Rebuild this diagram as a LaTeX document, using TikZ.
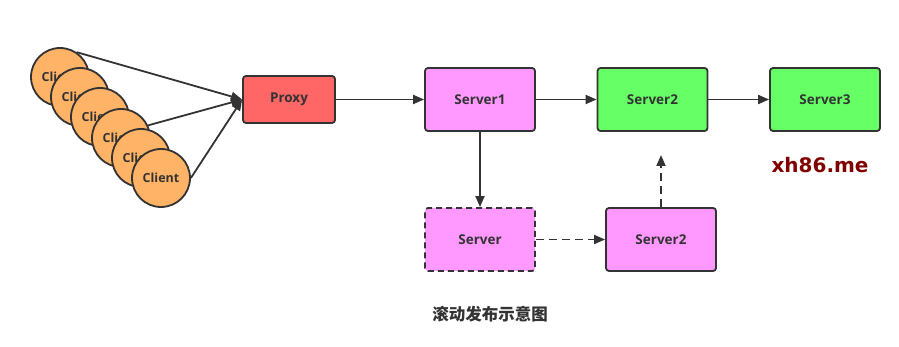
\documentclass[tikz,border=0pt]{standalone}
\usepackage{fontspec}
\setmainfont{Open Sans}
\newfontfamily\cjk{Noto Sans CJK SC}
\newfontfamily\logofont{DejaVu Sans}
\usetikzlibrary{arrows.meta}
\definecolor{strokec}{HTML}{333333}
\definecolor{clientc}{HTML}{FFB366}
\definecolor{proxyc}{HTML}{FF6666}
\definecolor{serverc}{HTML}{FF99FF}
\definecolor{greenc}{HTML}{66FF66}
\definecolor{logoc}{HTML}{800000}
\tikzset{
  client/.style={circle,draw=strokec,line width=1.8pt,fill=clientc,minimum size=58pt,inner sep=0pt,font=\bfseries\fontsize{12.5}{14}\selectfont,text=strokec},
  box/.style={rectangle,rounded corners=3pt,draw=strokec,line width=1.8pt,minimum width=110pt,minimum height=63pt,font=\bfseries\fontsize{13.5}{15}\selectfont,text=strokec},
  conn/.style={draw=strokec,line width=1.8pt,-{Triangle[length=11pt,width=9pt]}},
}
\begin{document}
\begin{tikzpicture}[x=1pt,y=-1pt]
\useasboundingbox (0,0) rectangle (899,347);
\node[client] (c1) at (60,77) {Client};
\node[client] (c2) at (80,97) {Client};
\node[client] (c3) at (100,117) {Client};
\node[client] (c4) at (121,138) {Client};
\node[client] (c5) at (141,158) {Client};
\node[client] (c6) at (161,178) {Client};
\node[box,fill=proxyc,minimum width=92pt,minimum height=47pt] (proxy) at (289,99.5) {Proxy};
\node[box,fill=serverc] (s1) at (480,99.5) {Server1};
\node[box,fill=greenc] (s2) at (652.5,99.5) {Server2};
\node[box,fill=greenc] (s3) at (825,99.5) {Server3};
\node[box,fill=serverc,dash pattern=on 6pt off 4pt] (sd) at (480,239.5) {Server};
\node[box,fill=serverc] (s2b) at (661,239.5) {Server2};
\coordinate (up) at (661,155);
\draw[conn] (c1.56) -- (proxy.west);
\draw[conn] (c4.25) -- (proxy.west);
\draw[conn] (c6.east) -- (proxy.west);
\draw[conn] (proxy.east) -- (s1.west);
\draw[conn] (s1.east) -- (s2.west);
\draw[conn] (s2.east) -- (s3.west);
\draw[conn] (s1.south) -- (sd.north);
\draw[conn,dash pattern=on 8pt off 5pt] (sd.east) -- (s2b.west);
\draw[conn,dash pattern=on 8pt off 5pt] (s2b.north) -- (up);
\node[font=\logofont\bfseries\fontsize{20}{22}\selectfont,text=logoc] (logo) at (820,165) {xh86.me};
\node[font=\cjk\bfseries\fontsize{16.5}{18}\selectfont,text=strokec] (cap) at (490,314) {滚动发布示意图};
\end{tikzpicture}
\end{document}
